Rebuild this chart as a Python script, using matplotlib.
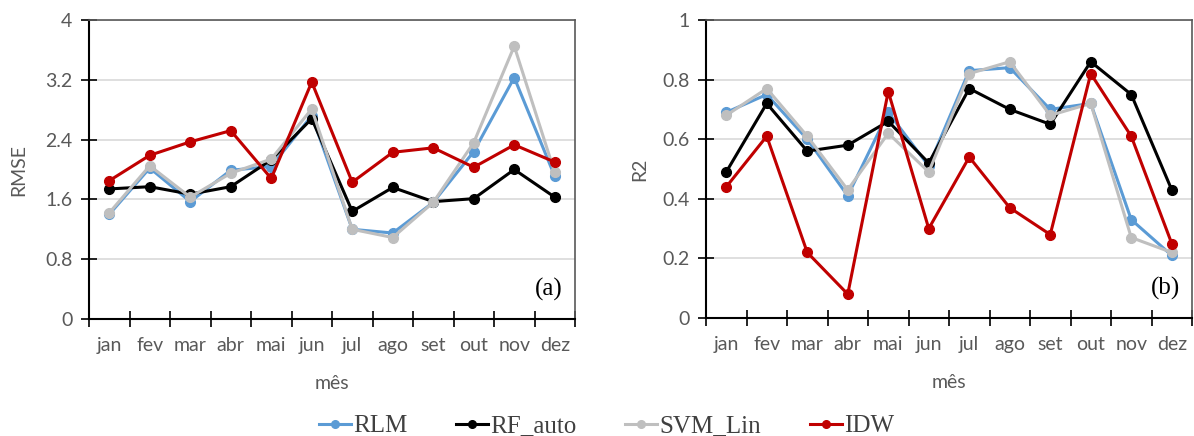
import matplotlib
matplotlib.use("Agg")
import matplotlib.pyplot as plt
from matplotlib.lines import Line2D

# dados
meses = ['jan', 'fev', 'mar', 'abr', 'mai', 'jun', 'jul', 'ago', 'set', 'out', 'nov', 'dez']

rmse_rlm = [1.40, 2.02, 1.57, 1.99, 2.04, 2.72, 1.20, 1.15, 1.56, 2.24, 3.23, 1.91]
rmse_rf = [1.74, 1.77, 1.67, 1.77, 2.13, 2.68, 1.44, 1.76, 1.57, 1.61, 2.00, 1.63]
rmse_svm = [1.42, 2.05, 1.63, 1.95, 2.14, 2.81, 1.20, 1.09, 1.56, 2.36, 3.65, 1.96]
rmse_idw = [1.85, 2.19, 2.37, 2.52, 1.88, 3.17, 1.83, 2.23, 2.29, 2.03, 2.33, 2.10]

r2_rlm = [0.69, 0.75, 0.60, 0.41, 0.69, 0.51, 0.83, 0.84, 0.70, 0.72, 0.33, 0.21]
r2_rf = [0.49, 0.72, 0.56, 0.58, 0.66, 0.52, 0.77, 0.70, 0.65, 0.86, 0.75, 0.43]
r2_svm = [0.68, 0.77, 0.61, 0.43, 0.62, 0.49, 0.82, 0.86, 0.68, 0.72, 0.27, 0.22]
r2_idw = [0.44, 0.61, 0.22, 0.08, 0.76, 0.30, 0.54, 0.37, 0.28, 0.82, 0.61, 0.25]

nomes = ['RLM', 'RF_auto', 'SVM_Lin', 'IDW']
cores = ['#5B9BD5', '#000000', '#BFBFBF', '#C00000']

plt.rcParams['font.family'] = ['Lato', 'DejaVu Sans']
cinza_txt = '#595959'

fig = plt.figure(figsize=(11.94, 4.36), dpi=100)
W, H = 1194, 436
ax1 = fig.add_axes([89 / W, 1 - 319 / H, (575 - 89) / W, (319 - 20) / H])
ax2 = fig.add_axes([706 / W, 1 - 318 / H, (1192 - 706) / W, (318 - 20) / H])


def desenha(ax, series, ymax, ystep, ylabel, letra, ypad):
    x = list(range(len(meses)))
    for vals, cor in zip(series, cores):
        ax.plot(x, vals, color=cor, lw=2.2, marker='o', ms=7, zorder=3)
    ax.set_xlim(-0.5, len(meses) - 0.5)
    ax.set_ylim(0, ymax)
    yt = [round(i * ystep, 2) for i in range(int(round(ymax / ystep)) + 1)]
    ax.set_yticks(yt)
    ax.set_yticklabels([('%g' % v) for v in yt])
    ax.set_xticks([i - 0.5 for i in range(len(meses) + 1)])
    ax.set_xticklabels([])
    ax.set_xticks(x, minor=True)
    ax.set_xticklabels(meses, minor=True)
    ax.tick_params(axis='x', which='minor', length=0, pad=13, labelsize=14, labelcolor=cinza_txt)
    ax.tick_params(axis='x', which='major', direction='inout', length=12, width=1.2, color='black')
    ax.tick_params(axis='y', direction='inout', length=12, width=1.2, color='black',
                   labelsize=14, labelcolor=cinza_txt, pad=6)
    ax.grid(axis='y', color='#D9D9D9', lw=1.2)
    ax.set_axisbelow(True)
    for s in ['top', 'right']:
        ax.spines[s].set_color('#595959')
        ax.spines[s].set_linewidth(1.2)
    for s in ['left', 'bottom']:
        ax.spines[s].set_color('black')
        ax.spines[s].set_linewidth(1.5)
    ax.set_xlabel('mês', fontsize=14, color=cinza_txt, labelpad=15)
    ax.set_ylabel(ylabel, fontsize=14, color=cinza_txt, labelpad=ypad)
    ax.text(0.975, 0.06, letra, transform=ax.transAxes, ha='right', va='bottom',
            fontsize=18, family='Liberation Serif')


desenha(ax1, [rmse_rlm, rmse_rf, rmse_svm, rmse_idw], 4, 0.8, 'RMSE', '(a)', 13)
desenha(ax2, [r2_rlm, r2_rf, r2_svm, r2_idw], 1, 0.2, 'R2', '(b)', 10)

handles = [Line2D([], [], color=c, lw=2.2, marker='o', ms=5.5) for c in cores]
fig.legend(handles, nomes, loc='lower center', bbox_to_anchor=(0.508, -0.055), ncol=4,
           frameon=False, prop={'family': 'Liberation Serif', 'size': 18},
           handlelength=1.28, handletextpad=0.08, columnspacing=1.95, labelcolor='#404040')

fig.savefig('out.png', dpi=100)
